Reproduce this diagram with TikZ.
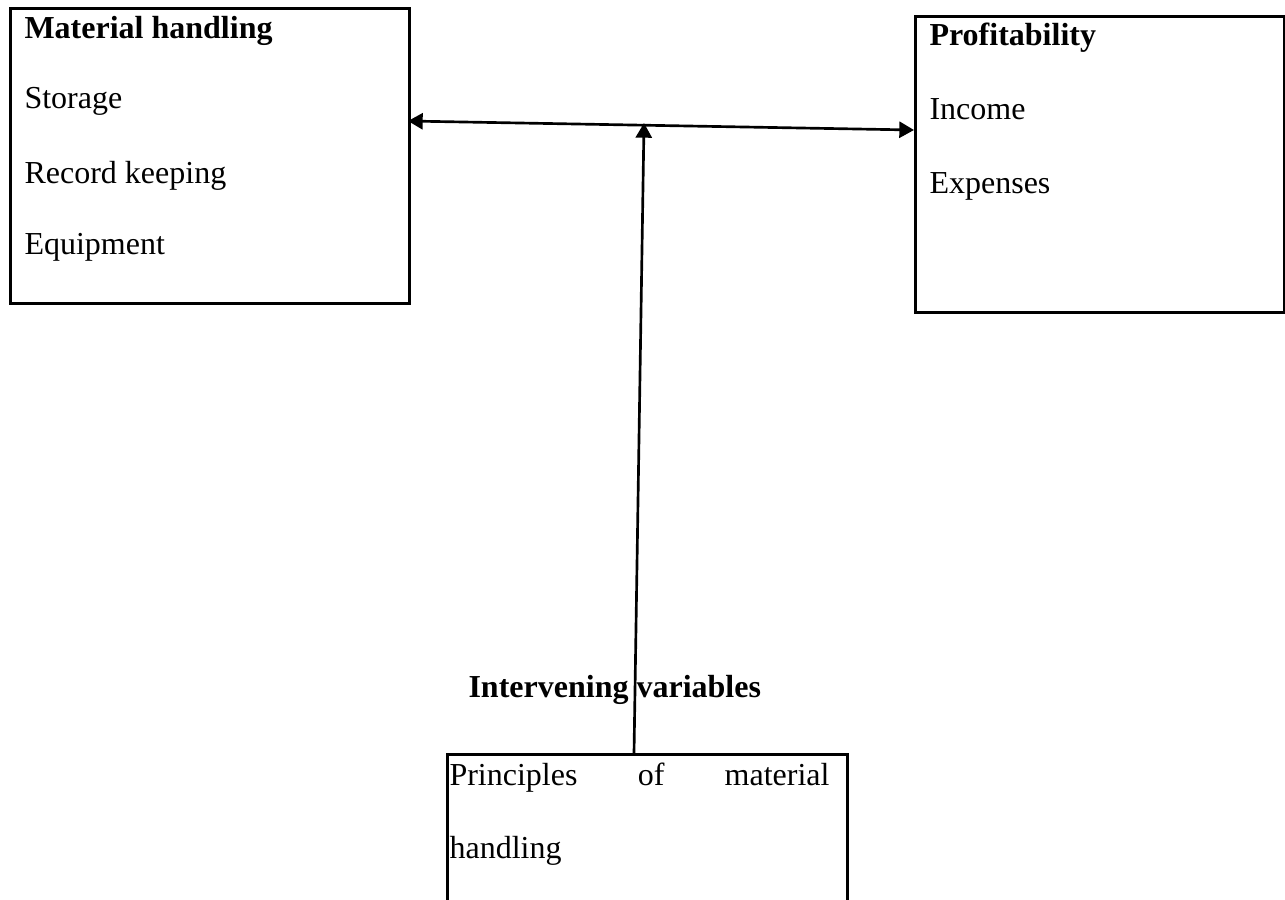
\documentclass[tikz,border=0pt]{standalone}
\usepackage{fontspec}
\setmainfont{Liberation Serif}
\usetikzlibrary{arrows.meta,positioning,calc}

\begin{document}
\begin{tikzpicture}[x=0.375pt, y=-0.375pt,
    varbox/.style={draw, line width=1pt, rectangle, anchor=north west, inner sep=0pt},
    item/.style={anchor=base west, inner sep=0pt, font=\fontsize{12}{14}\selectfont},
    head/.style={item, font=\fontsize{12}{14}\selectfont\bfseries},
    link/.style={line width=1pt, {Triangle[length=5.5pt,width=6pt]}-{Triangle[length=5.5pt,width=6pt]}}]
  \useasboundingbox (0, 0) rectangle (1285, 899);
  \clip (0, 0) rectangle (1285, 899);

  % Boxes
  \node[varbox, minimum width=149.6pt, minimum height=110.6pt] (mh) at (9, 7) {};
  \node[varbox, minimum width=138.4pt, minimum height=111pt] (prof) at (914, 15) {};
  \node[varbox, minimum width=150pt, minimum height=62.6pt] (prin) at (446, 753) {};

  % Material handling
  \node[head] (mhtitle) at (24, 38) {Material handling};
  \node[item] (storage) at (24, 108) {Storage};
  \node[item] (record) at (24, 183) {Record keeping};
  \node[item] (equip) at (24, 254) {Equipment};

  % Profitability
  \node[head] (proftitle) at (929, 45) {Profitability};
  \node[item] (income) at (929, 119) {Income};
  \node[item] (expenses) at (929, 193) {Expenses};

  % Principles
  \node[item] (printext) at (449, 785) {\makebox[142.5pt][s]{Principles \hfill of \hfill material}};
  \node[item] (handling) at (449, 858) {handling};

  \node[head] (interv) at (468, 697) {Intervening variables};

  % Connectors
  \coordinate (hl) at (408, 121);
  \coordinate (hr) at (914, 130);
  \coordinate (hm) at (644, 123);
  \coordinate (vb) at (634, 753);
  \draw[link] (hl) -- (hr);
  \draw[line width=1pt, -{Triangle[length=5.5pt,width=6pt]}] (vb) -- (hm);
\end{tikzpicture}
\end{document}
